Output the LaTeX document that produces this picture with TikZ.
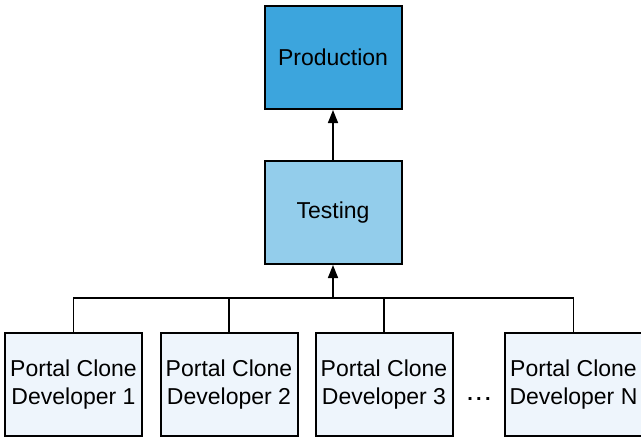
\documentclass[tikz,border=0pt]{standalone}
\usepackage{fontspec}
\setmainfont{Liberation Sans}
\usetikzlibrary{arrows.meta}
\definecolor{prodblue}{HTML}{3CA5DD}
\definecolor{testblue}{HTML}{93CDEB}
\definecolor{devblue}{HTML}{EEF5FC}
\begin{document}
\begin{tikzpicture}[x=1pt,y=-1pt,
  box/.style={draw=black,line width=2pt,minimum width=137pt,minimum height=103pt,inner sep=0pt,align=center,
    font=\fontsize{23pt}{27.5pt}\selectfont},
  conn/.style={line width=1.5pt},
  arr/.style={conn,-{Triangle[length=13pt,width=10pt]}}]
\useasboundingbox (0,0) rectangle (641,439);
\node[box,fill=prodblue] (prod) at (333,57.5) {Production};
\node[box,fill=testblue] (test) at (333,212.5) {Testing};
\node[box,fill=devblue] (d1) at (73.5,384.5) {Portal Clone\\Developer 1};
\node[box,fill=devblue] (d2) at (229,384.5) {Portal Clone\\Developer 2};
\node[box,fill=devblue] (d3) at (384,384.5) {Portal Clone\\Developer 3};
\node[box,fill=devblue] (d4) at (573.5,384.5) {Portal Clone\\Developer N};
\node[font=\fontsize{20pt}{24pt}\selectfont\bfseries,inner sep=0pt,anchor=base] (dots) at (479,400) {.\,.\,.};
\coordinate (j) at (333,298);
\draw[conn] (d1.north) |- (j);
\draw[conn] (d2.north) |- (j);
\draw[conn] (d3.north) |- (j);
\draw[conn] (d4.north) |- (j);
\draw[arr] (j) -- (test.south);
\draw[arr] (test.north) -- (prod.south);
\end{tikzpicture}
\end{document}
